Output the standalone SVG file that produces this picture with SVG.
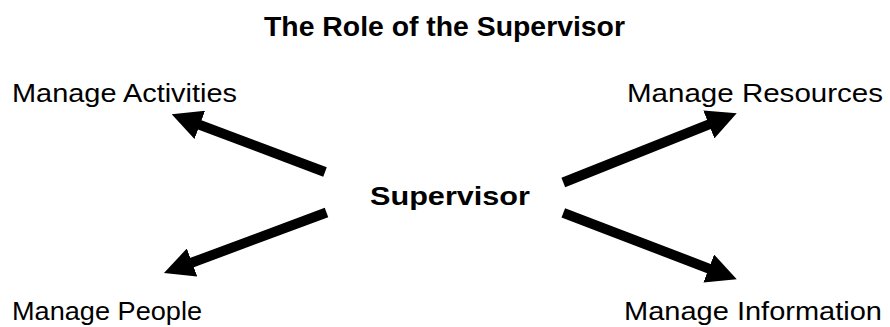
<svg xmlns="http://www.w3.org/2000/svg" width="890" height="327" viewBox="0 0 890 327">
<style>
text{font-family:"Liberation Sans",Arial,Helvetica,sans-serif;fill:#000}
.title{font-size:27px;font-weight:bold}
.hub{font-size:26px;font-weight:bold}
.lbl{font-size:26px}
.arr{stroke:#000;stroke-width:10;fill:none;marker-end:url(#head)}
</style>
<defs>
<marker id="head" markerUnits="userSpaceOnUse" markerWidth="30" markerHeight="30" refX="5" refY="15" orient="auto" viewBox="0 0 30 30">
<path d="M0,0 L30,15 L0,30 z" fill="#000"/>
</marker>
</defs>
<rect width="890" height="327" fill="#fff"/>
<text class="title" x="264" y="36" textLength="361" lengthAdjust="spacingAndGlyphs">The Role of the Supervisor</text>
<g id="supervisor"><text class="hub" x="370" y="205" textLength="160" lengthAdjust="spacingAndGlyphs">Supervisor</text></g>
<g id="activities"><text class="lbl" x="12" y="102" textLength="225" lengthAdjust="spacingAndGlyphs">Manage Activities</text></g>
<g id="resources"><text class="lbl" x="627" y="102" textLength="256" lengthAdjust="spacingAndGlyphs">Manage Resources</text></g>
<g id="people"><text class="lbl" x="12" y="320" textLength="190" lengthAdjust="spacingAndGlyphs">Manage People</text></g>
<g id="information"><text class="lbl" x="624" y="320" textLength="258" lengthAdjust="spacingAndGlyphs">Manage Information</text></g>
<g id="connectors">
<line class="arr" x1="325" y1="172" x2="195.1" y2="123.1"/>
<line class="arr" x1="326.5" y1="212.5" x2="187.4" y2="264.3"/>
<line class="arr" x1="563.3" y1="182.5" x2="713.5" y2="122.6"/>
<line class="arr" x1="563.3" y1="212.8" x2="713.4" y2="270.3"/>
</g>
</svg>
